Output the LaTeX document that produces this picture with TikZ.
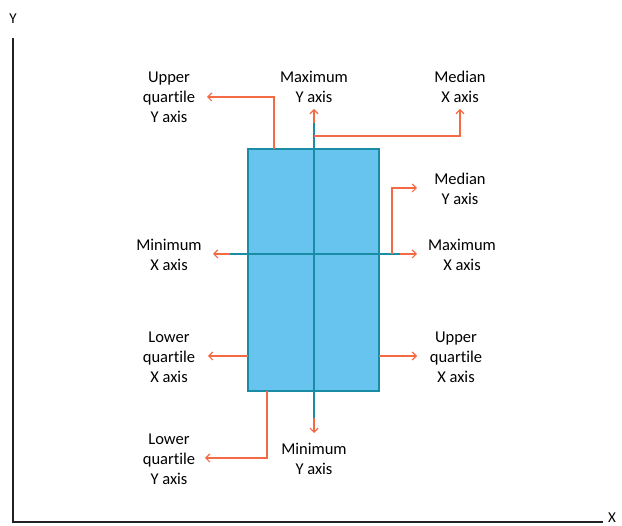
\documentclass[tikz,border=0pt]{standalone}
\usepackage{fontspec}
\setmainfont{Carlito}[Ligatures={NoCommon}]
\usetikzlibrary{arrows.meta}
\definecolor{boxfill}{HTML}{66C4EE}
\definecolor{teal1}{HTML}{1A8CA6}
\definecolor{orng}{HTML}{F46A45}
\definecolor{axisc}{HTML}{222222}
\tikzset{
  lbl/.style={align=center, font=\fontsize{16.5}{20}\selectfont, inner sep=0pt, text=black},
  axlbl/.style={font=\fontsize{15}{16}\selectfont, inner sep=0pt},
  boxshape/.style={draw=teal1, fill=boxfill, line width=2pt, minimum width=131pt, minimum height=242pt, inner sep=0pt},
  tealline/.style={draw=teal1, line width=2pt},
  orline/.style={draw=orng, line width=1.4pt, -{Straight Barb[length=4pt,width=8pt,line width=1.2pt]}},
  axisline/.style={draw=axisc, line width=1.5pt}
}
\begin{document}
\begin{tikzpicture}[x=1pt,y=-1pt]
\useasboundingbox (0,0) rectangle (622,526);
% axes
\coordinate (ytop) at (13,38);
\coordinate (origin) at (13,522);
\coordinate (xend) at (603,522);
\draw[axisline] (ytop) -- (origin) -- (xend);
\node[axlbl] (ylab) at (13,19) {Y};
\node[axlbl] (xlab) at (612,518) {X};
% labels
\node[lbl] (uqy) at (169,97) {Upper\\quartile\\Y axis};
\node[lbl] (maxy) at (314,87) {Maximum\\Y axis};
\node[lbl] (medx) at (460,87) {Median\\X axis};
\node[lbl] (medy) at (460,189) {Median\\Y axis};
\node[lbl] (minx) at (169,255) {Minimum\\X axis};
\node[lbl] (maxx) at (462,255) {Maximum\\X axis};
\node[lbl] (lqx) at (169,357) {Lower\\quartile\\X axis};
\node[lbl] (uqx) at (456,357) {Upper\\quartile\\X axis};
\node[lbl] (lqy) at (169,459) {Lower\\quartile\\Y axis};
\node[lbl] (miny) at (314,459) {Minimum\\Y axis};
% box
\node[boxshape] (box) at (313.5,270) {};
% teal whisker lines
\coordinate (vtop) at (314,123);
\coordinate (vbot) at (314,418);
\coordinate (hleft) at (230,254);
\coordinate (hright) at (400,254);
\draw[tealline] (vtop) -- (vbot);
\draw[tealline] (hleft) -- (hright);
% arrow tips
\coordinate (maxytip) at (314,109);
\coordinate (minytip) at (314,433);
\coordinate (minxtip) at (213,254);
\coordinate (maxxtip) at (417,254);
\coordinate (medyfoot) at (392,254);
\coordinate (medytip) at (417,188);
\coordinate (medxfoot) at (314,136);
\coordinate (medxtip) at (460,109);
\coordinate (uqyfoot) at (274,149);
\coordinate (uqytip) at (207,97);
\coordinate (lqxfoot) at (248,356);
\coordinate (lqxtip) at (208,356);
\coordinate (uqxfoot) at (379,356);
\coordinate (uqxtip) at (417,356);
\coordinate (lqyfoot) at (267,391);
\coordinate (lqytip) at (205,458);
% orange arrows
\draw[orline] (vtop) -- (maxytip);
\draw[orline] (vbot) -- (minytip);
\draw[orline] (hleft) -- (minxtip);
\draw[orline] (hright) -- (maxxtip);
\draw[orline] (medyfoot) |- (medytip);
\draw[orline] (medxfoot) -| (medxtip);
\draw[orline] (uqyfoot) |- (uqytip);
\draw[orline] (lqxfoot) -- (lqxtip);
\draw[orline] (uqxfoot) -- (uqxtip);
\draw[orline] (lqyfoot) |- (lqytip);
\end{tikzpicture}
\end{document}
